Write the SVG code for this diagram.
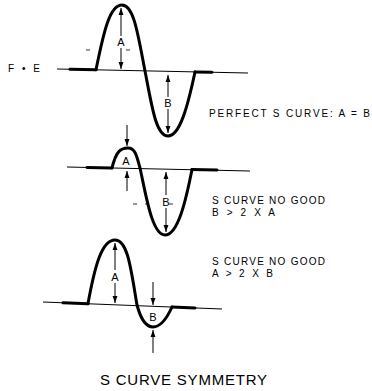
<svg xmlns="http://www.w3.org/2000/svg" width="372" height="391" viewBox="0 0 372 391">
<style>
.base{fill:none;stroke:#000;stroke-width:1.2}
.thick{fill:none;stroke:#000;stroke-width:3;stroke-linecap:round}
.curve{fill:none;stroke:#000;stroke-width:3;stroke-linecap:round;stroke-linejoin:round}
.dash{fill:none;stroke:#000;stroke-width:0.8}
.arr{fill:none;stroke:#000;stroke-width:1;marker-end:url(#ah)}
text{font-family:"Liberation Sans",Arial,sans-serif;fill:#000}
.lbl{font-size:11px}
.note{font-size:10px}
</style>
<defs>
<marker id="ah" viewBox="0 0 10 10" refX="10" refY="5" markerWidth="7" markerHeight="7" markerUnits="userSpaceOnUse" orient="auto">
<path d="M0,1.5 L10,5 L0,8.5 Z" fill="#000"/>
</marker>
</defs>

<g id="label-fe"><text x="8" y="72" font-size="10" textLength="32" lengthAdjust="spacing">F • E</text></g>

<g id="curve1">
<line class="base" x1="57" y1="69" x2="248" y2="73"/>
<line class="thick" x1="70" y1="69.3" x2="96" y2="69.8"/>
<line class="thick" x1="195" y1="72" x2="212" y2="72.3"/>
<path class="curve" d="M96,69.8 C104,30 110,5 122,5 C134,5 138,35 145,71 C152,107 156,136 168,136 C180,136 188,105 195,72"/>
<line class="dash" x1="86" y1="50" x2="90" y2="50"/>
<line class="dash" x1="126" y1="50" x2="130" y2="50"/>
<line class="arr" x1="121" y1="36" x2="121" y2="8"/>
<line class="arr" x1="121" y1="48" x2="121" y2="69"/>
<text class="lbl" x="121" y="46" text-anchor="middle">A</text>
<line class="arr" x1="168" y1="97" x2="168" y2="75"/>
<line class="arr" x1="168" y1="109" x2="168" y2="133"/>
<text class="lbl" x="168" y="107" text-anchor="middle">B</text>
</g>
<g id="text1"><text class="note" x="209" y="117" textLength="161" lengthAdjust="spacing">PERFECT S CURVE: A = B</text></g>

<g id="curve2">
<line class="base" x1="67" y1="167" x2="250" y2="171"/>
<line class="thick" x1="87" y1="167.4" x2="112" y2="167.9"/>
<line class="thick" x1="192" y1="169.5" x2="217" y2="170"/>
<path class="curve" d="M112,167.9 C116,152 120,148 128,148 C136,148 137,158 140,168 C146,195 152,235 165,235 C178,235 186,200 192,169.5"/>
<line class="dash" x1="133" y1="204" x2="137" y2="204"/>
<line class="dash" x1="145" y1="204" x2="149" y2="204"/>
<line class="dash" x1="169" y1="204" x2="173" y2="204"/>
<line class="arr" x1="127" y1="125" x2="127" y2="146"/>
<line class="arr" x1="127" y1="191" x2="127" y2="171"/>
<text class="lbl" x="126" y="165" text-anchor="middle" font-size="10">A</text>
<line class="arr" x1="166" y1="195" x2="166" y2="172"/>
<line class="arr" x1="166" y1="208" x2="166" y2="232"/>
<text class="lbl" x="166" y="206" text-anchor="middle">B</text>
</g>
<g id="text2">
<text class="note" x="212" y="204" textLength="113" lengthAdjust="spacing">S CURVE NO GOOD</text>
<text class="note" x="212" y="216" textLength="63" lengthAdjust="spacing">B &gt; 2 X A</text>
</g>

<g id="curve3">
<line class="base" x1="43" y1="302" x2="222" y2="309"/>
<line class="thick" x1="63" y1="302.8" x2="88" y2="303.7"/>
<line class="thick" x1="172" y1="307" x2="195" y2="307.9"/>
<path class="curve" d="M88,303.7 C95,265 102,240 115,240 C128,240 131,270 137,305 C141,320 146,327 153,327 C161,327 167,318 172,307"/>
<line class="arr" x1="115" y1="270" x2="115" y2="243"/>
<line class="arr" x1="115" y1="283" x2="115" y2="303"/>
<text class="lbl" x="115" y="281" text-anchor="middle">A</text>
<line class="arr" x1="153" y1="282" x2="153" y2="305"/>
<line class="arr" x1="153" y1="353" x2="153" y2="330"/>
<text class="lbl" x="153" y="321" text-anchor="middle">B</text>
</g>
<g id="text3">
<text class="note" x="212" y="265" textLength="113" lengthAdjust="spacing">S CURVE NO GOOD</text>
<text class="note" x="212" y="277" textLength="61" lengthAdjust="spacing">A &gt; 2 X B</text>
</g>

<g id="title"><text x="100" y="385" font-size="15" textLength="167" lengthAdjust="spacing">S CURVE SYMMETRY</text></g>
</svg>
